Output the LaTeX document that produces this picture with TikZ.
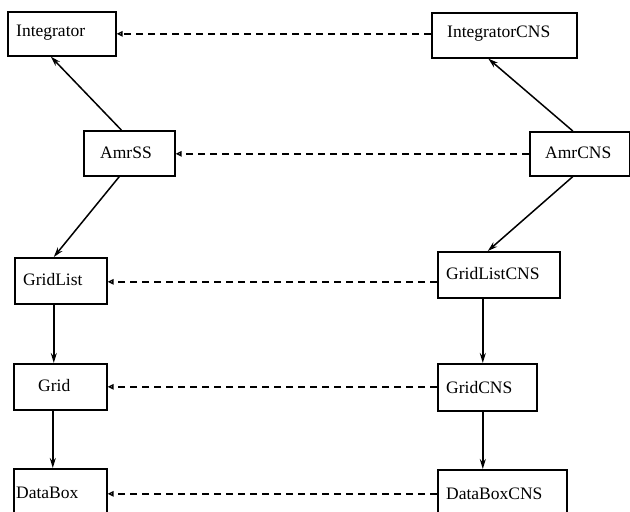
\documentclass[tikz,border=0pt]{standalone}
\usepackage{fontspec}
\setmainfont{Liberation Serif}
\usetikzlibrary{arrows.meta}
\begin{document}
\begin{tikzpicture}[x=1pt,y=-1pt,
  box/.style={draw, line width=1.6pt, inner sep=0pt},
  lbl/.style={anchor=west, inner sep=0pt, font=\fontsize{17.5}{20}\selectfont},
  uses/.style={-{Stealth[length=10pt,width=6pt]}, line width=1.5pt},
  inh/.style={-{Triangle[open,length=6pt,width=5.5pt]}, line width=1.4pt, dash pattern=on 7pt off 5pt}]
\clip (0,0) rectangle (630,512);
\useasboundingbox (0,0) rectangle (630,512);
% boxes
\node[box, anchor=north west, minimum width=108pt, minimum height=44pt] (integ) at (7,11) {};
\node[lbl] (integT) at (16,33) {Integrator};
\node[box, anchor=north west, minimum width=145pt, minimum height=45pt] (integC) at (431,12) {};
\node[lbl] (integCT) at (447,34) {IntegratorCNS};
\node[box, anchor=north west, minimum width=91pt, minimum height=45pt] (amr) at (83,130) {};
\node[lbl] (amrT) at (100,153) {AmrSS};
\node[box, anchor=north west, minimum width=100pt, minimum height=44pt] (amrC) at (529,131) {};
\node[lbl] (amrCT) at (545,153) {AmrCNS};
\node[box, anchor=north west, minimum width=92pt, minimum height=46pt] (gl) at (14,257) {};
\node[lbl] (glT) at (23,280) {GridList};
\node[box, anchor=north west, minimum width=122pt, minimum height=46pt] (glC) at (437,251) {};
\node[lbl] (glCT) at (446,274) {GridListCNS};
\node[box, anchor=north west, minimum width=93pt, minimum height=46pt] (grid) at (13,363) {};
\node[lbl] (gridT) at (38,386) {Grid};
\node[box, anchor=north west, minimum width=99pt, minimum height=47pt] (gridC) at (437,363) {};
\node[lbl] (gridCT) at (446,388) {GridCNS};
\node[box, anchor=north west, minimum width=93pt, minimum height=48pt] (db) at (13,468) {};
\node[lbl] (dbT) at (16,493) {DataBox};
\node[box, anchor=north west, minimum width=129pt, minimum height=47pt] (dbC) at (437,469) {};
\node[lbl] (dbCT) at (446,494) {DataBoxCNS};
% inheritance (dashed)
\draw[inh] (integC.west |- integ.east) -- (integ.east);
\draw[inh] ([yshift=-0.5pt]amrC.west |- amr.east) -- ([yshift=-0.5pt]amr.east);
\draw[inh] ([yshift=-1pt]glC.west |- gl.east) -- ([yshift=-1pt]gl.east);
\draw[inh] (gridC.west |- grid.east) -- (grid.east);
\draw[inh] ([yshift=-1pt]dbC.west |- db.east) -- ([yshift=-1pt]db.east);
% uses (solid)
\draw[uses] ([xshift=-8pt]amr.north) -- ([xshift=-11pt]integ.south);
\draw[uses] ([xshift=-7pt]amrC.north) -- ([xshift=-16pt]integC.south);
\draw[uses] ([xshift=-10pt]amr.south) -- ([xshift=-7pt]gl.north);
\draw[uses] ([xshift=-7pt]amrC.south) -- ([xshift=-11pt]glC.north);
\draw[uses] ([xshift=-7pt]gl.south) -- ([xshift=-6.5pt]grid.north);
\draw[uses] ([xshift=-7.5pt]grid.south) -- ([xshift=-7.5pt]db.north);
\draw[uses] ([xshift=-16pt]glC.south) -- ([xshift=-4.5pt]gridC.north);
\draw[uses] ([xshift=-4.5pt]gridC.south) -- ([xshift=-19.5pt]dbC.north);
\end{tikzpicture}
\end{document}
